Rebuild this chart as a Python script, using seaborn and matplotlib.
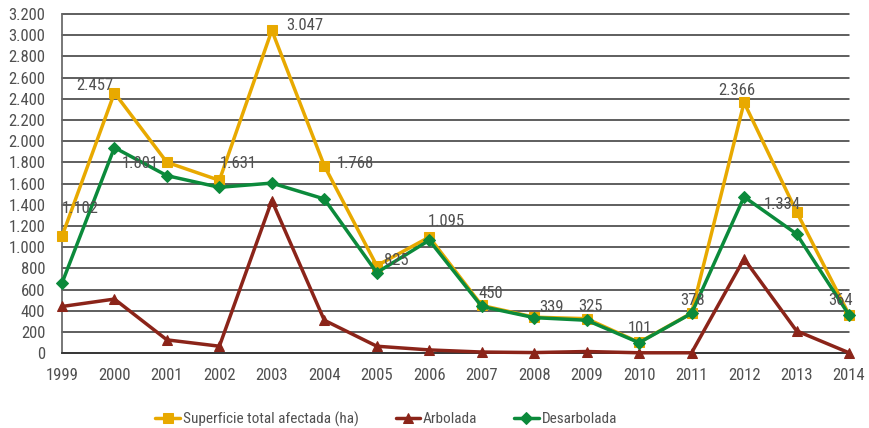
import numpy as np
import pandas as pd
import matplotlib
matplotlib.use("Agg")
import matplotlib.pyplot as plt
import seaborn as sns
from matplotlib.ticker import FuncFormatter

years = list(range(1999, 2015))
superficie = [1102, 2457, 1801, 1631, 3047, 1768, 825, 1095, 450, 339, 325, 101, 378, 2366, 1334, 364]
arbolada = [440, 510, 125, 65, 1440, 310, 65, 30, 10, 5, 15, 3, 3, 890, 210, 3]
desarbolada = [660, 1940, 1675, 1565, 1605, 1455, 760, 1065, 440, 335, 310, 98, 375, 1475, 1125, 360]

names = ["Superficie total afectada (ha)", "Arbolada", "Desarbolada"]
colors = ["#E8A900", "#8B2419", "#0B8A3B"]
markers = ["s", "^", "D"]

df = pd.DataFrame({"Año": years, names[0]: superficie, names[1]: arbolada, names[2]: desarbolada})
long_df = df.melt(id_vars="Año", var_name="serie", value_name="ha")

sns.set_theme(style="white")
plt.rcParams['font.family'] = ['Roboto Condensed', 'Roboto', 'DejaVu Sans']
text_color = "#505050"

fig, ax = plt.subplots(figsize=(8.69, 4.28), dpi=100)
fig.subplots_adjust(left=0.0713, right=0.977, bottom=0.175, top=0.967)

for y in range(0, 3201, 200):
    ax.axhline(y, color="#333333", lw=1.1, zorder=0)

# superficie first, then arbolada, desarbolada on top
for name, col, mk in zip(names, colors, markers):
    sub = long_df[long_df["serie"] == name]
    ms = {"s": 6.5, "^": 7.5, "D": 6}[mk]
    sns.lineplot(data=sub, x="Año", y="ha", color=col, marker=mk, markersize=ms,
                 markeredgecolor=col, lw=2.5, ax=ax, label=name, zorder=3)

# label offsets in pixels (dx, dy above the point, baseline)
label_offsets = [(0, 23), (-38, 3), (-45, -6), (0, 12), (14, 0), (12, -2), (7, 1), (-2, 11),
                 (-3, 7), (5, 5), (-8, 8), (-11, 9), (-11, 8), (-26, 7), (-33, 3), (-21, 10)]
for x, v, off in zip(years, superficie, label_offsets):
    lbl = f"{v:,}".replace(",", ".")
    ax.annotate(lbl, (x, v), xytext=off, textcoords="offset pixels", fontsize=12,
                color=text_color, ha="left", va="baseline", zorder=5)

ax.set_xlim(1999, 2014)
ax.set_ylim(0, 3200)
ax.set_xticks(years)
ax.set_yticks(range(0, 3201, 200))
ax.yaxis.set_major_formatter(FuncFormatter(lambda v, p: f"{int(v):,}".replace(",", ".")))
ax.set_xlabel("")
ax.set_ylabel("")
ax.tick_params(axis="both", labelsize=12, colors=text_color, width=1, direction="out")
ax.tick_params(axis="x", length=5, pad=6)
ax.tick_params(axis="y", length=0, pad=12)
for s in ["top", "right"]:
    ax.spines[s].set_visible(False)
ax.spines["left"].set_color("#666666")
ax.spines["bottom"].set_color("#333333")
for line in ax.lines:
    line.set_clip_on(False)

ax.legend(loc="center", bbox_to_anchor=(0.412, -0.195), ncol=3, frameon=False,
          fontsize=11, labelcolor=text_color, handlelength=1.6, columnspacing=2.4,
          handletextpad=0.2)

fig.savefig("out.png", dpi=100, facecolor="white")
